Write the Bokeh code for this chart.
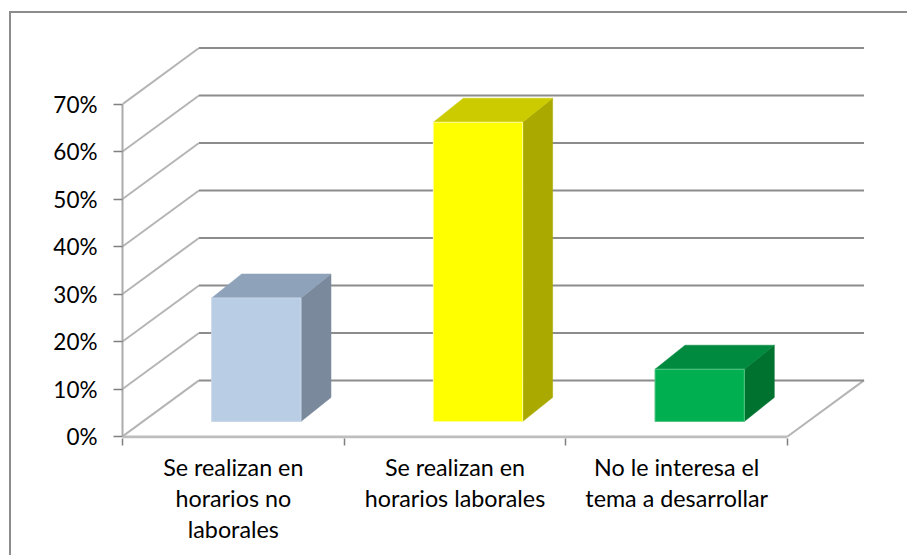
from bokeh.embed import file_html
from bokeh.models import FixedTicker, LinearAxis, PrintfTickFormatter, Range1d
from bokeh.plotting import figure
from bokeh.resources import INLINE

categories = ["Se realizan en\nhorarios no\nlaborales",
              "Se realizan en\nhorarios laborales",
              "No le interesa el\ntema a desarrollar"]
values = [26, 63, 11]
y_ticks = [0, 10, 20, 30, 40, 50, 60, 70]
front_colors = ["#B9CDE5", "#FFFF00", "#00B050"]
top_colors = ["#8EA2B9", "#CBCB00", "#008A3F"]
side_colors = ["#7A899C", "#A9A900", "#00722F"]
edge_colors = ["#C9D8EA", "#FFFF99", "#55C585"]

FONT = "Lato"
OX, OY = 11, 13            # page position of the figure (inside the chart-area border)
WIDTH, HEIGHT = 909 - OX, 557 - OY
# scale of the oblique projection (pixels per data unit)
PX_X, PX_Y = 221.67, 4.743
WALL_DX, WALL_DY = 76.5 / PX_X, 56 / PX_Y
BAR_W = 89.3 / PX_X
BAR_DX0, BAR_DX1 = 23 / PX_X, 53 / PX_X
BAR_DY0, BAR_DY1 = 15 / PX_Y, 39 / PX_Y

L, T, R, B = 122 - OX, 40 - OY, 909 - 870, 557 - 437.5
fw, fh = WIDTH - L - R, HEIGHT - T - B
x_range = Range1d(0, fw / PX_X)
y0 = -2 / PX_Y
y_range = Range1d(y0, y0 + fh / PX_Y)

p = figure(width=WIDTH, height=HEIGHT, output_backend="svg", toolbar_location=None,
           x_range=x_range, y_range=y_range, x_axis_location=None, y_axis_location=None,
           min_border_left=L, min_border_right=R, min_border_top=T, min_border_bottom=int(B))
p.grid.visible = False
p.outline_line_color = None
p.background_fill_color = "white"
p.border_fill_color = "white"
# chart-area border (only its left and top sides are in view)
p.styles = {"position": "absolute", "left": f"{OX - 2}px", "top": f"{OY - 2}px",
            "border-left": "2px solid #8C8C8C", "border-top": "2px solid #8C8C8C"}

n = len(categories)
# side wall lines, floor edge, back wall lines
p.multi_line([[0, WALL_DX] for _ in y_ticks], [[v, v + WALL_DY] for v in y_ticks],
             line_color="#B4B4B4", line_width=2)
p.line([n, n + WALL_DX], [0, WALL_DY], line_color="#B4B4B4", line_width=2)
p.multi_line([[WALL_DX, n + WALL_DX] for _ in y_ticks], [[v + WALL_DY] * 2 for v in y_ticks],
             line_color="#8C8C8C", line_width=2)
# front edge of floor
p.line([0, n], [y0 * 0.3, y0 * 0.3], line_color="#BEBEBE", line_width=3)

for i, v in enumerate(values):
    xl = i + 0.5 - BAR_W / 2 + BAR_DX0
    xr = xl + BAR_W
    ddx = BAR_DX1 - BAR_DX0
    yb = BAR_DY0
    yt = v + BAR_DY0
    ddy = BAR_DY1 - BAR_DY0
    p.patch([xr, xr + ddx, xr + ddx, xr], [yb, yb + ddy, yt + ddy, yt],
            fill_color=side_colors[i], line_color=side_colors[i], line_width=0.5)
    p.patch([xl, xr, xr + ddx, xl + ddx], [yt, yt, yt + ddy, yt + ddy],
            fill_color=top_colors[i], line_color=top_colors[i], line_width=0.5)
    p.patch([xl, xr, xr, xl], [yb, yb, yt, yt],
            fill_color=front_colors[i], line_color=edge_colors[i], line_width=1)

y_axis = LinearAxis(ticker=FixedTicker(ticks=y_ticks), formatter=PrintfTickFormatter(format="%d%%"),
                    bounds=(0, 70), axis_line_color="#ABABAB", axis_line_width=2,
                    major_tick_line_color="#808080", major_tick_line_width=1.5,
                    major_tick_in=0, major_tick_out=9, minor_tick_line_color=None,
                    major_label_text_font=FONT, major_label_text_font_size="22.5px",
                    major_label_text_color="black", major_label_standoff=16)
p.add_layout(y_axis, "left")

x_axis = LinearAxis(ticker=FixedTicker(ticks=list(range(n + 1))), bounds=(0, n),
                    major_label_overrides={i: "" for i in range(n + 1)},
                    axis_line_color=None, major_tick_line_color="#808080",
                    major_tick_line_width=1.5, major_tick_in=0, major_tick_out=7,
                    minor_tick_line_color=None, major_label_standoff=0)
p.add_layout(x_axis, "below")

label_axis = LinearAxis(ticker=FixedTicker(ticks=[i + 0.5 for i in range(n)]),
                        major_label_overrides={i + 0.5: c for i, c in enumerate(categories)},
                        axis_line_color=None, major_tick_line_color=None, minor_tick_line_color=None,
                        major_tick_in=0, major_tick_out=0,
                        major_label_text_font=FONT, major_label_text_font_size="23.3px",
                        major_label_text_color="black", major_label_text_line_height=1.12,
                        major_label_standoff=7)
p.add_layout(label_axis, "below")

open("out.html", "w").write(file_html(p, INLINE))
